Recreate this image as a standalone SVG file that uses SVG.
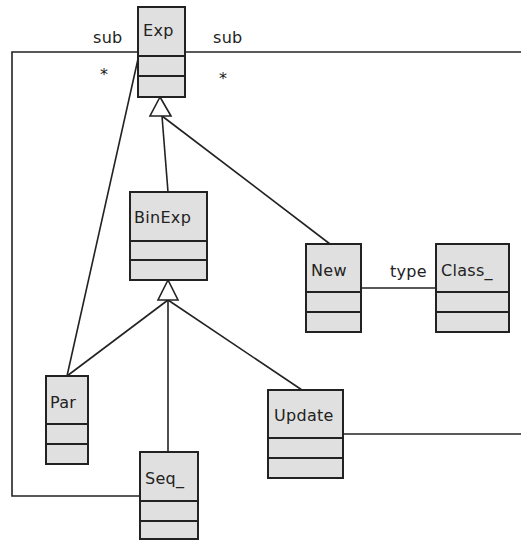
<svg xmlns="http://www.w3.org/2000/svg" width="521" height="540" viewBox="0 0 521 540">
<style>
.box{fill:#e0e0e0;stroke:#222;stroke-width:2}
.div{stroke:#222;stroke-width:2}
.ln{fill:none;stroke:#222;stroke-width:1.6}
.tri{fill:#fff;stroke:#222;stroke-width:1.6}
text{font-family:"DejaVu Sans","Liberation Sans",sans-serif;font-size:16px;letter-spacing:0.3px;fill:#222}
</style>
<rect width="521" height="540" fill="#fff"/>
<g id="connectors">
<polyline class="ln" points="138,52 12,52 12,496 140,496"/>
<line class="ln" x1="185" y1="52" x2="521" y2="52"/>
<line class="ln" x1="138" y1="59" x2="67" y2="376"/>
<line class="ln" x1="162" y1="116" x2="168" y2="192"/>
<line class="ln" x1="162" y1="116" x2="330" y2="244"/>
<line class="ln" x1="168" y1="300" x2="168" y2="452"/>
<line class="ln" x1="168" y1="300" x2="67" y2="376"/>
<line class="ln" x1="168" y1="300" x2="302" y2="390"/>
<line class="ln" x1="361" y1="288" x2="436" y2="288"/>
<line class="ln" x1="343" y1="434" x2="521" y2="434"/>
<polygon class="tri" points="160,97 150,116 171,116"/>
<polygon class="tri" points="168,280 158,300 178,300"/>
<text x="93" y="43">sub</text>
<text x="213" y="43">sub</text>
<text x="100" y="80">*</text>
<text x="219" y="84">*</text>
<text x="390" y="277">type</text>
</g>
<g id="Exp">
<rect class="box" x="138" y="7" width="47" height="90"/>
<line class="div" x1="138" y1="56" x2="185" y2="56"/>
<line class="div" x1="138" y1="76" x2="185" y2="76"/>
<text x="143" y="36">Exp</text>
</g>
<g id="BinExp">
<rect class="box" x="130" y="192" width="77" height="88"/>
<line class="div" x1="130" y1="241" x2="207" y2="241"/>
<line class="div" x1="130" y1="260" x2="207" y2="260"/>
<text x="134" y="223">BinExp</text>
</g>
<g id="New">
<rect class="box" x="306" y="244" width="55" height="88"/>
<line class="div" x1="306" y1="292" x2="361" y2="292"/>
<line class="div" x1="306" y1="312" x2="361" y2="312"/>
<text x="311" y="276">New</text>
</g>
<g id="Class_">
<rect class="box" x="436" y="244" width="73" height="88"/>
<line class="div" x1="436" y1="292" x2="509" y2="292"/>
<line class="div" x1="436" y1="312" x2="509" y2="312"/>
<text x="441" y="276">Class_</text>
</g>
<g id="Par">
<rect class="box" x="46" y="376" width="42" height="88"/>
<line class="div" x1="46" y1="424" x2="88" y2="424"/>
<line class="div" x1="46" y1="444" x2="88" y2="444"/>
<text x="50" y="408">Par</text>
</g>
<g id="Update">
<rect class="box" x="268" y="390" width="75" height="88"/>
<line class="div" x1="268" y1="438" x2="343" y2="438"/>
<line class="div" x1="268" y1="458" x2="343" y2="458"/>
<text x="274" y="421">Update</text>
</g>
<g id="Seq_">
<rect class="box" x="140" y="452" width="58" height="87"/>
<line class="div" x1="140" y1="501" x2="198" y2="501"/>
<line class="div" x1="140" y1="521" x2="198" y2="521"/>
<text x="145" y="484">Seq_</text>
</g>
</svg>
